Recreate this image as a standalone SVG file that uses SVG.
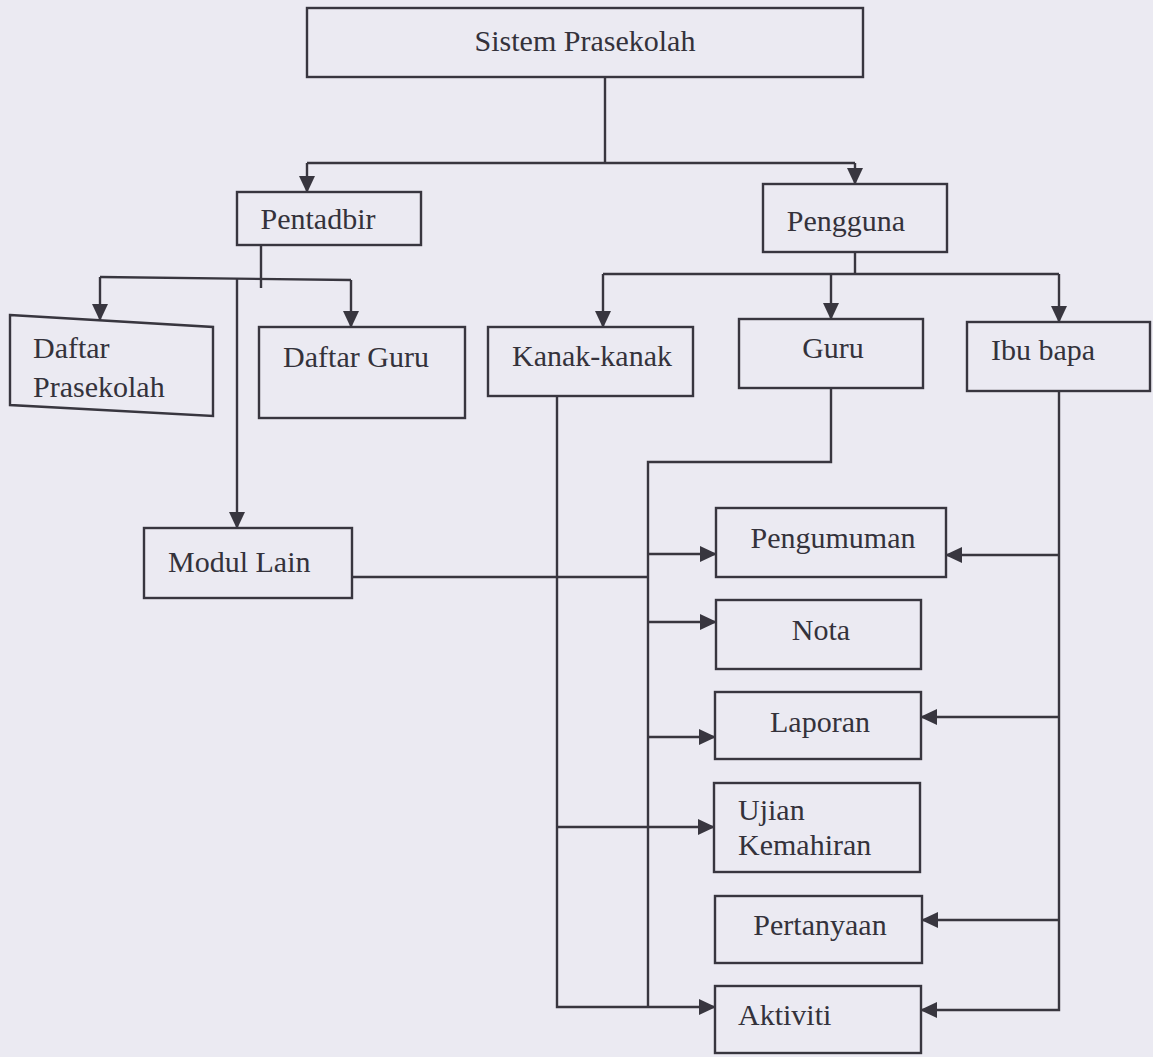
<svg xmlns="http://www.w3.org/2000/svg" width="1153" height="1057" viewBox="0 0 1153 1057">
  <style>
    .box { fill: none; stroke: #38363f; stroke-width: 2.4; }
    .lbl { font-family: "Liberation Serif", "Times New Roman", serif; font-size: 30px; fill: #34323b; }
    .mid { text-anchor: middle; }
    .wire { fill: none; stroke: #38363f; stroke-width: 2.4; }
  </style>
  <defs>
    <marker id="head" viewBox="0 0 17 16" refX="16" refY="8" markerWidth="17" markerHeight="16" markerUnits="userSpaceOnUse" orient="auto">
      <path d="M0,0 L17,8 L0,16 Z" fill="#38363f"/>
    </marker>
  </defs>

  <rect x="0" y="0" width="1153" height="1057" fill="#ebeaf2"/>

  <!-- connectors -->
  <g id="connectors">
    <path class="wire" d="M605,77 V163"/>
    <path class="wire" d="M307,163 H855"/>
    <path class="wire" d="M307,163 V192" marker-end="url(#head)"/>
    <path class="wire" d="M855,163 V184" marker-end="url(#head)"/>

    <path class="wire" d="M261,245 V288"/>
    <path class="wire" d="M100,277 L351,280"/>
    <path class="wire" d="M100,277 V320" marker-end="url(#head)"/>
    <path class="wire" d="M351,280 V327" marker-end="url(#head)"/>
    <path class="wire" d="M237,278 V528" marker-end="url(#head)"/>

    <path class="wire" d="M855,252 V274"/>
    <path class="wire" d="M603,274 H1059"/>
    <path class="wire" d="M603,274 V327" marker-end="url(#head)"/>
    <path class="wire" d="M831,274 V319" marker-end="url(#head)"/>
    <path class="wire" d="M1059,274 V322" marker-end="url(#head)"/>

    <!-- Kanak-kanak feed -->
    <path class="wire" d="M557,396 V1007 H715" marker-end="url(#head)"/>
    <path class="wire" d="M557,827 H714" marker-end="url(#head)"/>

    <!-- Guru feed -->
    <path class="wire" d="M831,388 V462 H648 V1007"/>
    <path class="wire" d="M648,554 H716" marker-end="url(#head)"/>
    <path class="wire" d="M648,622 H716" marker-end="url(#head)"/>
    <path class="wire" d="M648,737 H715" marker-end="url(#head)"/>

    <!-- Modul Lain feed -->
    <path class="wire" d="M352,577 H648"/>

    <!-- Ibu bapa feed -->
    <path class="wire" d="M1059,391 V1010 H921" marker-end="url(#head)"/>
    <path class="wire" d="M1059,555 H946" marker-end="url(#head)"/>
    <path class="wire" d="M1059,717 H921" marker-end="url(#head)"/>
    <path class="wire" d="M1059,920 H922" marker-end="url(#head)"/>
  </g>

  <!-- nodes -->
  <g id="sistem">
    <rect class="box" x="307" y="8" width="556" height="69"/>
    <text class="lbl mid" x="585" y="51">Sistem Prasekolah</text>
  </g>
  <g id="pentadbir">
    <rect class="box" x="237" y="192" width="184" height="53"/>
    <text class="lbl mid" x="318" y="229">Pentadbir</text>
  </g>
  <g id="pengguna">
    <rect class="box" x="763" y="184" width="184" height="68"/>
    <text class="lbl mid" x="846" y="231">Pengguna</text>
  </g>
  <g id="daftar-prasekolah">
    <polygon class="box" points="10,315 213,327 213,416 10,405"/>
    <text class="lbl" x="33" y="358">Daftar</text>
    <text class="lbl" x="33" y="397">Prasekolah</text>
  </g>
  <g id="daftar-guru">
    <rect class="box" x="259" y="327" width="206" height="91"/>
    <text class="lbl mid" x="356" y="367">Daftar Guru</text>
  </g>
  <g id="modul-lain">
    <rect class="box" x="144" y="528" width="208" height="70"/>
    <text class="lbl" x="168" y="572">Modul Lain</text>
  </g>
  <g id="kanak-kanak">
    <rect class="box" x="488" y="327" width="205" height="69"/>
    <text class="lbl mid" x="592" y="366">Kanak-kanak</text>
  </g>
  <g id="guru">
    <rect class="box" x="739" y="319" width="184" height="69"/>
    <text class="lbl mid" x="833" y="358">Guru</text>
  </g>
  <g id="ibu-bapa">
    <rect class="box" x="967" y="322" width="183" height="69"/>
    <text class="lbl mid" x="1043" y="360">Ibu bapa</text>
  </g>
  <g id="pengumuman">
    <rect class="box" x="716" y="508" width="230" height="69"/>
    <text class="lbl mid" x="833" y="548">Pengumuman</text>
  </g>
  <g id="nota">
    <rect class="box" x="716" y="600" width="205" height="69"/>
    <text class="lbl mid" x="821" y="640">Nota</text>
  </g>
  <g id="laporan">
    <rect class="box" x="715" y="692" width="206" height="67"/>
    <text class="lbl mid" x="820" y="732">Laporan</text>
  </g>
  <g id="ujian-kemahiran">
    <rect class="box" x="714" y="783" width="206" height="89"/>
    <text class="lbl" x="738" y="820">Ujian</text>
    <text class="lbl" x="738" y="855">Kemahiran</text>
  </g>
  <g id="pertanyaan">
    <rect class="box" x="715" y="896" width="207" height="67"/>
    <text class="lbl mid" x="820" y="935">Pertanyaan</text>
  </g>
  <g id="aktiviti">
    <rect class="box" x="715" y="986" width="206" height="67"/>
    <text class="lbl" x="738" y="1025">Aktiviti</text>
  </g>
</svg>
